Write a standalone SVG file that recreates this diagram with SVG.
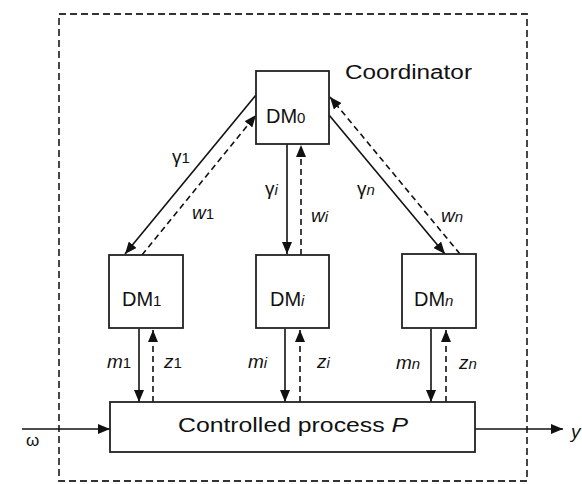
<svg xmlns="http://www.w3.org/2000/svg" width="582" height="484" viewBox="0 0 582 484">
<style>
.box{fill:#fff;stroke:#222;stroke-width:1.8}
.frame{fill:none;stroke:#333;stroke-width:1.8;stroke-dasharray:7,4}
.s{stroke:#111;stroke-width:1.6;fill:none}
.d{stroke:#111;stroke-width:1.6;fill:none;stroke-dasharray:6,4}
text{font-family:"Liberation Sans",Arial,sans-serif;fill:#111}
.lbl{font-size:20px}
.big{font-size:20px}
.it{font-style:italic}
.sub{font-size:15px}
</style>
<defs>
<marker id="ah" markerWidth="12" markerHeight="10" refX="12" refY="5" orient="auto" markerUnits="userSpaceOnUse">
<path d="M0,0 L12,5 L0,10 Z" fill="#111"/>
</marker>
</defs>
<rect class="frame" x="59" y="14" width="468" height="467"/>
<g id="connectors">
<line class="s" x1="256" y1="95" x2="125" y2="254" marker-end="url(#ah)"/>
<line class="d" x1="142" y1="255" x2="256" y2="115" marker-end="url(#ah)"/>
<line class="s" x1="287" y1="144" x2="287" y2="254" marker-end="url(#ah)"/>
<line class="d" x1="301" y1="255" x2="301" y2="145" marker-end="url(#ah)"/>
<line class="s" x1="329" y1="115" x2="445" y2="254" marker-end="url(#ah)"/>
<line class="d" x1="460" y1="254" x2="330" y2="97" marker-end="url(#ah)"/>
<line class="s" x1="139" y1="329" x2="139" y2="402" marker-end="url(#ah)"/>
<line class="d" x1="153" y1="402" x2="153" y2="330" marker-end="url(#ah)"/>
<line class="s" x1="285" y1="329" x2="285" y2="402" marker-end="url(#ah)"/>
<line class="d" x1="300" y1="402" x2="300" y2="330" marker-end="url(#ah)"/>
<line class="s" x1="431" y1="329" x2="431" y2="402" marker-end="url(#ah)"/>
<line class="d" x1="446" y1="402" x2="446" y2="330" marker-end="url(#ah)"/>
<line class="s" x1="22" y1="429" x2="110" y2="429" marker-end="url(#ah)"/>
<line class="s" x1="475" y1="429" x2="563" y2="429" marker-end="url(#ah)"/>
</g>
<g id="dm0">
<rect class="box" x="256" y="71" width="73" height="73"/>
<text class="lbl" x="266" y="123">DM<tspan class="sub">0</tspan></text>
</g>
<text class="big" x="345" y="79" textLength="127" lengthAdjust="spacingAndGlyphs">Coordinator</text>
<g id="dm1">
<rect class="box" x="109" y="255" width="74" height="73"/>
<text class="lbl" x="122" y="306">DM<tspan class="sub">1</tspan></text>
</g>
<g id="dmi">
<rect class="box" x="256" y="255" width="73" height="73"/>
<text class="lbl" x="270" y="306">DM<tspan class="sub it">i</tspan></text>
</g>
<g id="dmn">
<rect class="box" x="402" y="254" width="74" height="74"/>
<text class="lbl" x="414" y="306">DM<tspan class="sub it">n</tspan></text>
</g>
<g id="process">
<rect class="box" x="110" y="402" width="365" height="50"/>
<text class="big" x="178" y="432" textLength="230" lengthAdjust="spacingAndGlyphs">Controlled process <tspan class="it">P</tspan></text>
</g>
<g id="labels">
<text x="172" y="163" font-size="19">γ<tspan class="sub">1</tspan></text>
<text x="192" y="219" class="it" font-size="19">w<tspan class="sub" font-style="normal">1</tspan></text>
<text x="265" y="195" font-size="19">γ<tspan class="sub it">i</tspan></text>
<text x="311" y="222" class="it" font-size="19">w<tspan class="sub">i</tspan></text>
<text x="357" y="195" font-size="19">γ<tspan class="sub it">n</tspan></text>
<text x="441" y="222" class="it" font-size="19">w<tspan class="sub">n</tspan></text>
<text x="107" y="368" class="it" font-size="19">m<tspan class="sub" font-style="normal">1</tspan></text>
<text x="164" y="368" class="it" font-size="19">z<tspan class="sub" font-style="normal">1</tspan></text>
<text x="248" y="368" class="it" font-size="19">m<tspan class="sub">i</tspan></text>
<text x="317" y="368" class="it" font-size="19">z<tspan class="sub">i</tspan></text>
<text x="396" y="369" class="it" font-size="19">m<tspan class="sub">n</tspan></text>
<text x="459" y="369" class="it" font-size="19">z<tspan class="sub">n</tspan></text>
<text x="26" y="446" font-size="17">ω</text>
<text x="571" y="438" class="it" font-size="19">y</text>
</g>
</svg>
